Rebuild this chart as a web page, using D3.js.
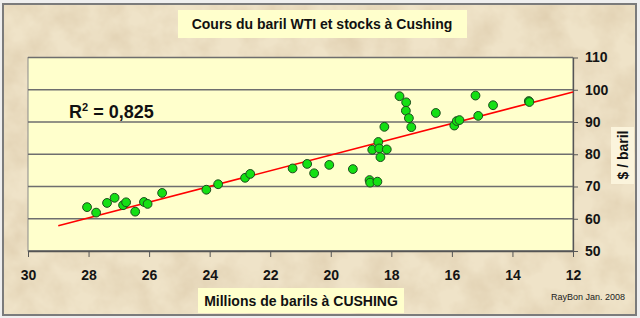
<!DOCTYPE html>
<html>
<head>
<meta charset="utf-8">
<script src="https://cdnjs.cloudflare.com/ajax/libs/d3/7.8.5/d3.min.js"></script>
<style>
	html, body { margin: 0; padding: 0; background: #efefef; }
	svg { display: block; font-family: "Liberation Sans", Arial, sans-serif; }
</style>
</head>
<body>
<div id="container"></div>
<script>
// stocks à Cushing (millions de barils)
const stocks = [28.05, 27.75, 27.39, 27.14, 26.86, 26.76, 26.46, 26.17, 26.05, 25.57,
	24.11, 23.72, 22.83, 22.66, 21.26, 20.78, 20.55, 20.05, 19.27, 18.72,
	18.70, 18.46, 18.63, 18.43, 18.40, 18.15, 18.36, 18.23, 17.73, 17.51,
	17.52, 17.42, 17.34, 16.53, 15.92, 15.84, 15.75, 15.22, 15.13, 14.64,
	13.46, 13.44];
// cours du WTI ($ / baril)
const prix = [63.6, 61.9, 64.9, 66.5, 64.2, 65.1, 62.2, 65.2, 64.6, 68.0,
	69.0, 70.7, 72.7, 73.9, 75.6, 77.0, 74.1, 76.7, 75.4, 72.0,
	71.2, 71.5, 81.4, 83.8, 81.8, 81.5, 79.1, 88.5, 98.0, 96.1,
	93.5, 91.2, 88.4, 92.8, 88.9, 90.3, 90.6, 98.2, 91.9, 95.2,
	96.5, 96.2];
// courbe de tendance (extrémités)
const trendX = [29, 12];
const trendY = [57.8, 99.3];
const xTicks = [30, 28, 26, 24, 22, 20, 18, 16, 14, 12];
const yTicks = [50, 60, 70, 80, 90, 100, 110];
const r2Value = "0,825";

const width = 640, height = 318;
const plot = { left: 28, right: 573, top: 57.5, bottom: 251 };

const svg = d3.select("#container")
	.append("svg")
	.attr("width", width)
	.attr("height", height);

// texture papier
let $defs = svg.append("defs");
let $paper = $defs.append("filter")
	.attr("id", "paper")
	.attr("x", 0).attr("y", 0)
	.attr("width", "100%").attr("height", "100%");
$paper.append("feTurbulence")
	.attr("type", "fractalNoise")
	.attr("baseFrequency", 0.03)
	.attr("numOctaves", 4)
	.attr("seed", 7);
$paper.append("feColorMatrix")
	.attr("type", "matrix")
	.attr("values", "0 0 0 0 0.62  0 0 0 0 0.48  0 0 0 0 0.30  0.75 0 0 0 -0.26");

svg.append("rect")
	.attr("x", 3).attr("y", 4)
	.attr("width", 633).attr("height", 311)
	.attr("fill", "#efe3c8");
svg.append("rect")
	.attr("x", 3).attr("y", 4)
	.attr("width", 633).attr("height", 311)
	.attr("fill", "#fff")
	.attr("filter", "url(#paper)");
svg.append("rect")
	.attr("x", 3).attr("y", 4)
	.attr("width", 633).attr("height", 311)
	.attr("fill", "none")
	.attr("stroke", "#7b7b7b")
	.attr("stroke-width", 2);

const x = d3.scaleLinear().domain([30, 12]).range([plot.left, plot.right]);
const y = d3.scaleLinear().domain([50, 110]).range([plot.bottom, plot.top]);

// zone de tracé
svg.append("rect")
	.attr("x", plot.left).attr("y", plot.top)
	.attr("width", plot.right - plot.left)
	.attr("height", plot.bottom - plot.top)
	.attr("fill", "#ffffcc")
	.attr("stroke", "#8a8a8a")
	.attr("stroke-width", 1);

// quadrillage
svg.append("g")
	.selectAll("line")
	.data(yTicks)
	.join("line")
	.attr("x1", plot.left).attr("x2", plot.right)
	.attr("y1", d => y(d)).attr("y2", d => y(d))
	.attr("stroke", "#6e6e6e")
	.attr("stroke-width", 1.3);

// axes
const $xAxis = svg.append("g")
	.attr("transform", `translate(0,${plot.bottom})`)
	.call(d3.axisBottom(x).tickValues(xTicks).tickSize(6).tickSizeOuter(0).tickPadding(13));
const $yAxis = svg.append("g")
	.attr("transform", `translate(${plot.right},0)`)
	.call(d3.axisRight(y).tickValues(yTicks).tickSize(5).tickSizeOuter(0).tickPadding(7));

[$xAxis, $yAxis].forEach($a => {
	$a.select(".domain").attr("stroke", "#555").attr("stroke-width", 1.3);
	$a.selectAll(".tick line").attr("stroke", "#555");
	$a.selectAll("text")
		.attr("fill", "#141414")
		.style("font-size", "14px")
		.style("font-weight", "bold")
		.style("font-family", "'Liberation Sans', Arial, sans-serif");
});

// droite de régression
svg.append("line")
	.attr("x1", x(trendX[0])).attr("y1", y(trendY[0]))
	.attr("x2", x(trendX[1])).attr("y2", y(trendY[1]))
	.attr("stroke", "#ff0000")
	.attr("stroke-width", 1.6);

// points
svg.append("g")
	.selectAll("circle")
	.data(stocks.map((s, i) => [s, prix[i]]))
	.join("circle")
	.attr("cx", d => x(d[0]))
	.attr("cy", d => y(d[1]))
	.attr("r", 4.4)
	.attr("fill", "#14e014")
	.attr("stroke", "#1d4a1d")
	.attr("stroke-width", 1);

// R²
let $r2 = svg.append("text")
	.attr("x", 69).attr("y", 118)
	.attr("fill", "#111")
	.style("font-size", "18px")
	.style("font-weight", "bold");
$r2.append("tspan").text("R");
$r2.append("tspan").attr("dy", -7).style("font-size", "11px").text("2");
$r2.append("tspan").attr("dy", 7).text(" = " + r2Value);

// titre
svg.append("rect")
	.attr("x", 178).attr("y", 10)
	.attr("width", 289).attr("height", 28)
	.attr("fill", "#ffffcc");
svg.append("text")
	.attr("x", 322).attr("y", 29)
	.attr("text-anchor", "middle")
	.attr("fill", "#111")
	.style("font-size", "14px")
	.style("font-weight", "bold")
	.text("Cours du baril WTI et stocks à Cushing");

// titre axe X
svg.append("rect")
	.attr("x", 198).attr("y", 288)
	.attr("width", 206).attr("height", 25)
	.attr("fill", "#ffffcc");
svg.append("text")
	.attr("x", 301).attr("y", 306)
	.attr("text-anchor", "middle")
	.attr("fill", "#111")
	.style("font-size", "14px")
	.style("font-weight", "bold")
	.text("Millions de barils à CUSHING");

// titre axe Y
svg.append("rect")
	.attr("x", 611).attr("y", 127)
	.attr("width", 23).attr("height", 57)
	.attr("fill", "#fbf4dc");
svg.append("text")
	.attr("transform", "translate(628,155) rotate(-90)")
	.attr("text-anchor", "middle")
	.attr("fill", "#111")
	.style("font-size", "14px")
	.style("font-weight", "bold")
	.text("$ / baril");

// signature
svg.append("text")
	.attr("x", 625).attr("y", 300)
	.attr("text-anchor", "end")
	.attr("fill", "#222")
	.style("font-size", "9px")
	.text("RayBon Jan. 2008");
</script>
</body>
</html>
